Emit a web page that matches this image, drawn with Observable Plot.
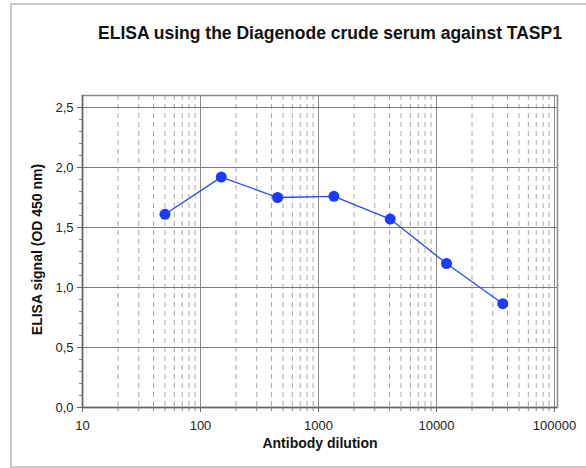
<!DOCTYPE html>
<html>
<head>
<meta charset="utf-8">
<script src="https://cdn.jsdelivr.net/npm/d3@7"></script>
<script src="https://cdn.jsdelivr.net/npm/@observablehq/plot@0.6"></script>
<style>
  html, body { margin: 0; padding: 0; background: #fff; }
  #wrap { position: relative; width: 586px; height: 468px; overflow: hidden; font-family: "Liberation Sans", Arial, sans-serif; }
  #border { position: absolute; left: 10px; top: 3px; width: 620px; height: 461px; border: 2px solid #c8c8c8; border-right: none; box-sizing: content-box; }
  #chart { position: absolute; left: 0; top: 0; }
</style>
</head>
<body>
<div id="wrap"><div id="border"></div><div id="chart"></div></div>
<script>
const title = "ELISA using the Diagenode crude serum against TASP1";
const xLabel = "Antibody dilution";
const yLabel = "ELISA signal (OD 450 nm)";

const dilutions = [50, 150, 450, 1350, 4050, 12150, 36450];
const signal = [1.61, 1.92, 1.75, 1.76, 1.57, 1.20, 0.865];

const xMajorTicks = [10, 100, 1000, 10000, 100000];
const xMinorTicks = [20, 30, 40, 50, 60, 70, 80, 90,
  200, 300, 400, 500, 600, 700, 800, 900,
  2000, 3000, 4000, 5000, 6000, 7000, 8000, 9000,
  20000, 30000, 40000, 50000, 60000, 70000, 80000, 90000];
const yMajorTicks = [0, 0.5, 1.0, 1.5, 2.0, 2.5];
const yMinorTicks = [0.1, 0.2, 0.3, 0.4, 0.6, 0.7, 0.8, 0.9, 1.1, 1.2, 1.3, 1.4,
  1.6, 1.7, 1.8, 1.9, 2.1, 2.2, 2.3, 2.4];

const data = dilutions.map((d, i) => ({dilution: d, signal: signal[i]}));

const chart = Plot.plot({
  width: 586,
  height: 468,
  marginLeft: 82,
  marginRight: 29,
  marginTop: 95,
  marginBottom: 61,
  style: {fontFamily: "'Liberation Sans', Arial, sans-serif", fontSize: "13px", color: "#222", background: "transparent"},
  x: {type: "log", domain: [10, 106000]},
  y: {domain: [0, 2.6]},
  marks: [
    Plot.ruleX(xMinorTicks, {stroke: "#a8a8a8", strokeWidth: 1, strokeDasharray: "5,4"}),
    Plot.ruleX(xMajorTicks, {stroke: "#8a8a8a", strokeWidth: 1}),
    Plot.ruleY(yMajorTicks.filter(d => d > 0), {stroke: "#7a7a7a", strokeWidth: 1}),
    Plot.frame({stroke: "#8a8a8a", strokeWidth: 1.5}),
    Plot.axisX({ticks: xMajorTicks, tickFormat: d => String(d), tickSize: 5, tickPadding: 8, stroke: "#666", label: null, fontSize: 13}),
    Plot.axisX({ticks: xMinorTicks, tickFormat: () => "", tickSize: 4, stroke: "#888", label: null}),
    Plot.axisY({ticks: yMajorTicks, tickFormat: d => d.toFixed(1).replace(".", ","), tickSize: 5, tickPadding: 4, stroke: "#666", label: null, fontSize: 13}),
    Plot.axisY({ticks: yMinorTicks, tickFormat: () => "", tickSize: 3, stroke: "#888", label: null}),
    Plot.ruleY([0], {stroke: "#666", strokeWidth: 1.5}),
    Plot.ruleX([10], {stroke: "#666", strokeWidth: 1.5}),
    Plot.line(data, {x: "dilution", y: "signal", stroke: "#2a48ff", strokeWidth: 1.3}),
    Plot.dot(data, {x: "dilution", y: "signal", r: 5.5, fill: "#1a3cff", stroke: "none"}),
    Plot.text([xLabel], {frameAnchor: "bottom", dy: 40, text: d => d, fontWeight: "bold", fontSize: 14, fill: "#111"}),
    Plot.text([yLabel], {frameAnchor: "left", dx: -45, dy: -2, rotate: -90, textAnchor: "middle", lineAnchor: "middle", text: d => d, fontWeight: "bold", fontSize: 14, fill: "#111"}),
    Plot.text([title], {frameAnchor: "top", dx: 10, dy: -69, text: d => d, fontWeight: "bold", fontSize: 17.5, fill: "#111"})
  ]
});
document.getElementById("chart").appendChild(chart);
</script>
</body>
</html>
